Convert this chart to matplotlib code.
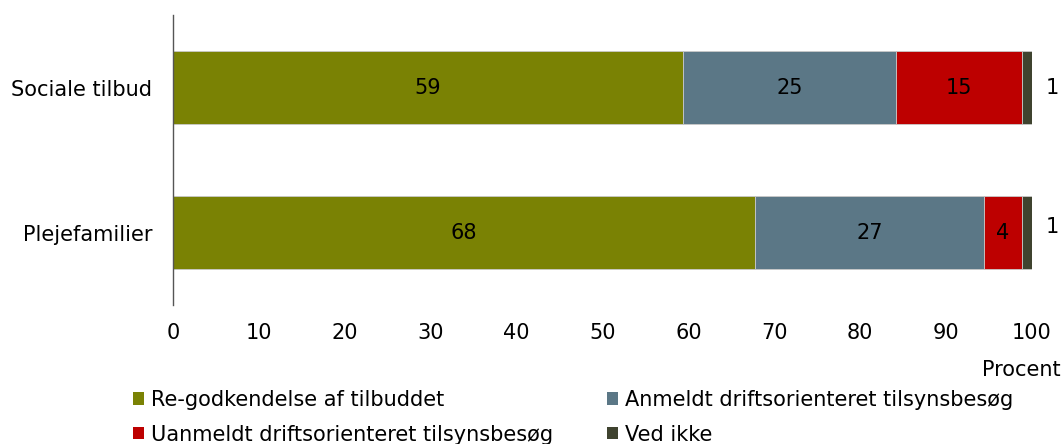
import matplotlib
matplotlib.use("Agg")
import matplotlib.pyplot as plt
from matplotlib.patches import Patch

categories = ["Plejefamilier", "Sociale tilbud"]
series_names = ["Re-godkendelse af tilbuddet",
                "Anmeldt driftsorienteret tilsynsbesøg",
                "Uanmeldt driftsorienteret tilsynsbesøg",
                "Ved ikke"]
regodkendelse = [67.8, 59.4]
anmeldt = [26.6, 24.8]
uanmeldt = [4.4, 14.6]
ved_ikke = [1.2, 1.2]
xticks = [0, 10, 20, 30, 40, 50, 60, 70, 80, 90, 100]

colors = ["#7A8204", "#5B7786", "#BD0000", "#3F432F"]
series = [regodkendelse, anmeldt, uanmeldt, ved_ikke]

FS = 15
plt.rcParams['font.family'] = ['DejaVu Sans']
fig = plt.figure(figsize=(10.63, 4.44), dpi=100)
ax = fig.add_axes([173/1063, 1-305/444, (1032-173)/1063, (305-15)/444])

y = list(range(len(categories)))
left = [0.0] * len(categories)
for vals, col, name in zip(series, colors, series_names):
    ax.barh(y, vals, left=left, height=0.5, color=col,
            edgecolor="#c9c9c9", linewidth=0.6, label=name)
    for i, (v, l) in enumerate(zip(vals, left)):
        lab = f"{v:.0f}"
        if v >= 3:
            ax.text(l + v / 2, y[i], lab, ha="center", va="center",
                    fontsize=FS, color="black")
        else:
            ax.text(101.6, y[i] + (0.04 if i == 0 else 0), lab,
                    ha="left", va="center", fontsize=FS, color="black",
                    clip_on=False)
    left = [a + b for a, b in zip(left, vals)]

ax.set_xlim(0, 100)
ax.set_ylim(-0.5, 1.5)
ax.set_xticks(xticks)
ax.set_yticks(y)
ax.set_yticklabels(categories)
ax.tick_params(axis="both", length=0, labelsize=FS)
ax.tick_params(axis="x", pad=13)
ax.tick_params(axis="y", pad=15)
for s in ["top", "right", "bottom"]:
    ax.spines[s].set_visible(False)
ax.spines["left"].set_color("#555555")
ax.spines["left"].set_linewidth(1.0)

fig.text(1061/1063, 1-370/444, "Procent", ha="right", va="center", fontsize=FS)

handles = [Patch(facecolor=c) for c in colors]
order = [0, 2, 1, 3]
fig.legend([handles[i] for i in order], [series_names[i] for i in order],
           ncol=2, loc="upper left", bbox_to_anchor=(133/1063, 1-390/444),
           frameon=False, fontsize=FS, handlelength=0.55, handleheight=0.55,
           handletextpad=0.3, columnspacing=2.6, labelspacing=0.7,
           borderpad=0, borderaxespad=0)

fig.savefig("out.png", dpi=100)
